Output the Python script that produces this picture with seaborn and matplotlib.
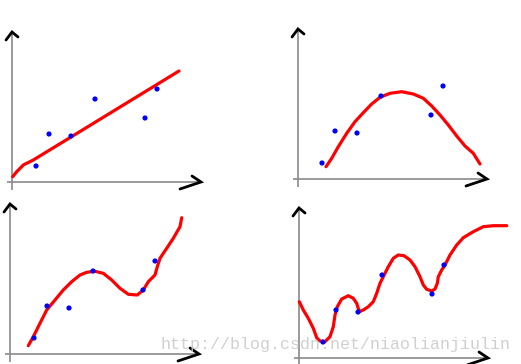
import matplotlib
matplotlib.use("Agg")
import matplotlib.pyplot as plt
import seaborn as sns
import pandas as pd

sns.set_theme(style="white")

# shared sample points (same in all four panels)
pts_x = [24, 37, 59, 83, 133, 145]
pts_y = [16, 48, 46, 83, 64, 93]

# panel 1: linear (underfit)
c1_x = [0.7, 4.7, 11.3, 21.3, 71.3, 167]
c1_y = [5.3, 10.3, 17, 22, 52.5, 111]

# panel 2: quadratic-ish
c2_x = [28, 33.7, 40.3, 48.7, 57, 65.3, 73.7, 82, 92, 103.7, 115.3, 125.3,
        133.7, 142, 150.3, 158.7, 167, 175.3, 182]
c2_y = [12.3, 20.7, 32.3, 45.7, 57.3, 66.3, 75, 81.7, 85.7, 87.3, 85, 80.7,
        73, 64, 54, 43, 33, 25.7, 15]

# panel 3: cubic-ish
c3_x = [18.3, 23.3, 30, 36.7, 45, 53.3, 61.7, 70, 76.7, 85, 93.3, 101.7, 110,
        118.3, 127.3, 133.3, 138.3, 145, 147.3, 150, 156.7, 163.3, 170, 171.7]
c3_y = [8.3, 17.3, 30.7, 44, 54, 64, 72.3, 79, 81.7, 82.7, 80.7, 74, 65.7,
        59.7, 59, 64, 72.3, 79, 87.3, 95.7, 105.7, 115.7, 127.3, 136.3]

# panel 4: overfit
c4_x = [0.3, 4.3, 9.3, 14.3, 17.7, 21, 26, 31, 34.3, 36, 38.3, 42.7, 49.3,
        54.3, 57.7, 60.3, 64.3, 69.3, 74.3, 77.7, 81, 84.3, 89.3, 94.3, 99.3,
        105, 111, 116, 121, 124.3, 127.7, 132.7, 136, 138.3, 139.3, 142.7,
        146, 151, 157.7, 164.3, 174.3, 184.3, 194.3, 207.7]
c4_y = [56.3, 48, 39.7, 29.7, 20.3, 17, 16.3, 21.3, 31.3, 43, 51.3, 59, 62.3,
        59.7, 54.7, 46.3, 48, 51.3, 56.3, 64.7, 74.7, 81.3, 91.3, 99.7, 103,
        102.3, 98, 91.3, 81.3, 73, 68.7, 67, 69, 74.7, 81.3, 88, 93, 103, 113,
        120.3, 126.3, 131.3, 132.3, 132.3]

curves = [(c1_x, c1_y), (c2_x, c2_y), (c3_x, c3_y), (c4_x, c4_y)]

# panel origins in the image (pixels)
origins = [(12, 182), (298, 179), (10, 354), (299, 358)]

# hand-drawn axes pieces (local units)
yaxis_x = [0, 0]
yaxis_y = [-8, 149]
xaxis_x = [-5, 189]
xaxis_y = [0, 0]
up_x = [-6, 0, 6]
up_y = [142, 150, 145]
right_x = [180, 189, 168]
right_y = [6, 0, -7]

watermark = "http://blog.csdn.net/niaolianjiulin"

W, H = 521, 364
fig = plt.figure(figsize=(W / 100, H / 100), dpi=100)
fig.patch.set_facecolor("white")

XL, XR, YB, YT = -14, 212, -10, 155
for (ox, oy), (cx, cy) in zip(origins, curves):
    ax = fig.add_axes([(ox + XL) / W, 1 - (oy - YB) / H,
                       (XR - XL) / W, (YT - YB) / H])
    ax.set_xlim(XL, XR)
    ax.set_ylim(YB, YT)
    ax.axis("off")
    ax.plot(yaxis_x, yaxis_y, color="#8a8a8a", lw=1.2, solid_capstyle="butt")
    ax.plot(xaxis_x, xaxis_y, color="#8a8a8a", lw=1.2, solid_capstyle="butt")
    ax.plot(up_x, up_y, color="black", lw=2.0, solid_joinstyle="miter")
    ax.plot(right_x, right_y, color="black", lw=2.0, solid_joinstyle="miter")
    df = pd.DataFrame({"x": cx, "y": cy})
    sns.lineplot(data=df, x="x", y="y", sort=False, estimator=None,
                 color="#ff0000", lw=2.3, ax=ax)
    dp = pd.DataFrame({"x": pts_x, "y": pts_y})
    sns.scatterplot(data=dp, x="x", y="y", color="#0000ff", s=14,
                    edgecolor="none", ax=ax, zorder=3)
    ax.set_xlabel("")
    ax.set_ylabel("")

fig.text(160 / W, 1 - 349 / H, watermark, fontsize=12,
         family=["Liberation Mono", "DejaVu Sans Mono"],
         color="#c8c8c8", alpha=0.85, ha="left", va="baseline")

fig.savefig("out.png", dpi=100, facecolor="white")
